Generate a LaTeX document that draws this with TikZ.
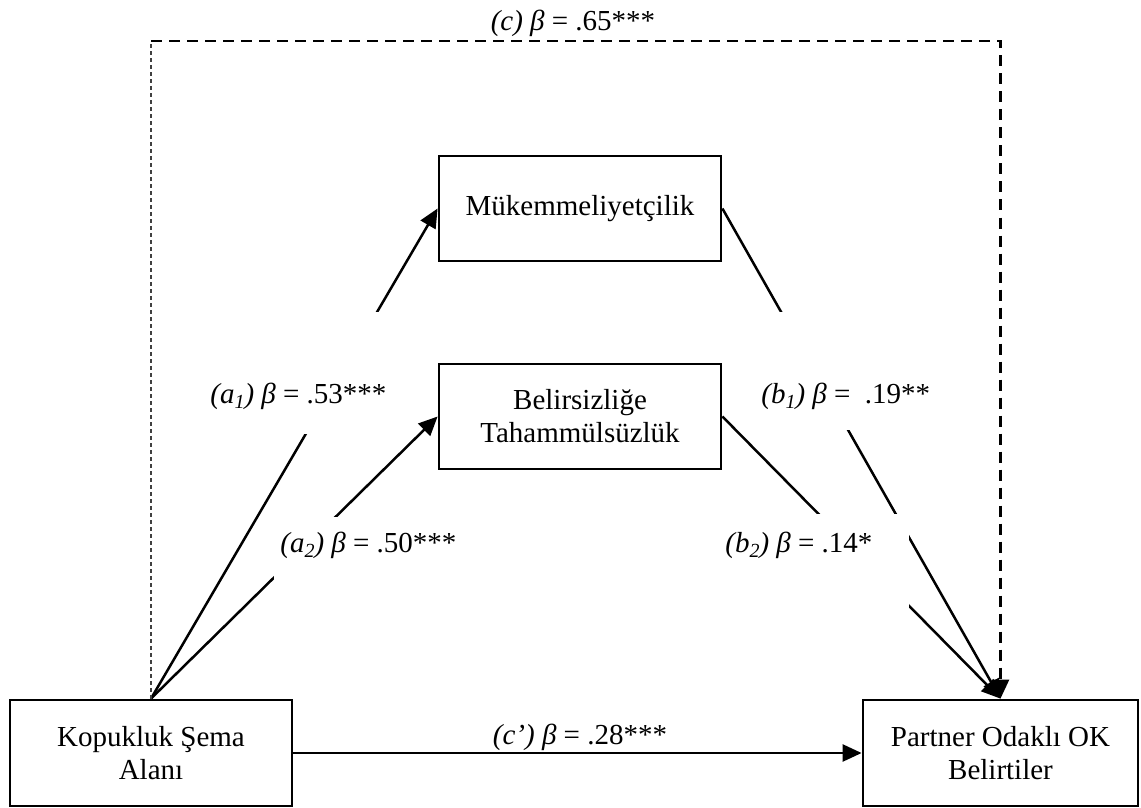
\documentclass[tikz,border=0pt]{standalone}
\usepackage{fontspec}
\setmainfont{Liberation Serif}
\usetikzlibrary{arrows.meta,calc}
\newcommand\diafont{\fontsize{14.5}{16.5}\selectfont}
\newcommand\lowsub[1]{\raisebox{-2.6pt}{\fontsize{10}{11}\selectfont #1}}
\begin{document}
\begin{tikzpicture}[x=0.5pt,y=-0.5pt,
  box/.style={draw,line width=1.4pt,minimum width=141pt,align=center,font=\diafont,inner sep=0pt},
  conn/.style={line width=1.25pt,-{Triangle[length=9.5pt,width=8.5pt]}},
  lab/.style={font=\diafont,fill=white,inner xsep=3pt,inner ysep=0pt,anchor=base west},
  plainlab/.style={font=\diafont,inner sep=0pt,anchor=base},
  thindash/.style={line width=0.6pt,draw=black!75,dash pattern=on 2pt off 1.5pt},
  thickdash/.style={line width=1.3pt,dash pattern=on 5.5pt off 3.5pt,-{Triangle[length=9.5pt,width=8.5pt]}},
 ]
\useasboundingbox (0,0) rectangle (1141,808);

\node[box,minimum height=53pt] (kop) at (151,753) {Kopukluk Şema\\Alanı};
\node[box,minimum width=137.5pt,minimum height=53pt] (par) at (1000.5,753) {Partner Odaklı OK\\Belirtiler};
\node[box,minimum height=52.5pt] (muk) at (580,208.5) {Mükemmeliyetçilik};
\node[box,minimum height=52.5pt] (bel) at (580,416.5) {Belirsizliğe\\Tahammülsüzlük};

% first paths
\draw[conn] (kop.north) -- (muk.west);
\draw[conn] (muk.east) -- (par.north);
\node[lab,text height=45.5pt,text depth=15.5pt] (la1) at (204,403)
  {\textit{(a\lowsub{1}) β} = .53***};
\node[lab,text height=45.5pt,text depth=13.5pt] (lb1) at (755,403)
  {\textit{(b\lowsub{1}) β} =\ \ .19**};

% second paths
\draw[conn] (kop.north) -- (bel.west);
\draw[conn] (bel.east) -- (par.north);
\node[lab,text height=17.5pt,text depth=31.5pt] (la2) at (274,552)
  {\textit{(a\lowsub{2}) β} = .50***};
\node[lab,text height=19pt,text depth=32.5pt] (lb2) at (719,552)
  {\textit{(b\lowsub{2}) β} = .14*\hspace*{15pt}};

% direct effect
\draw[conn] (kop.east) -- (par.west);
\node[plainlab] (lcp) at (580,744) {\textit{(c’) β} = .28***};

% total effect
\coordinate (tl) at (151,41);
\coordinate (tr) at (par.north |- tl);
\draw[thindash] (kop.north) -- (tl);
\draw[thickdash] (tl) -- (tr) -- (par.north);
\node[plainlab] (lc) at (573,31) {\textit{(c) β} = .65***};
\end{tikzpicture}
\end{document}
